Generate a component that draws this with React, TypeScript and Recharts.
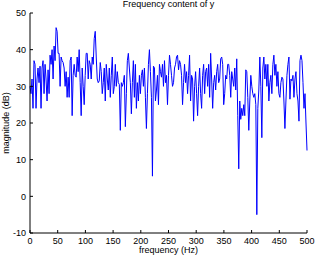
import { LineChart, Line, XAxis, YAxis } from 'recharts';

// magnitude readings, 0..500 Hz, split in chunks of roughly 100 Hz
const mag0to100 = [
  30, 28, 32, 24, 37, 36, 24, 32, 35, 31, 35.5, 24, 35, 37, 28, 36, 32, 26, 34.5, 28,
  38.5, 36, 40, 32, 41, 37, 46, 45, 39, 39, 30, 38, 37, 36.5, 35, 30, 34, 27, 32.5, 27,
  37, 38, 22, 33, 36, 33, 32.5, 38, 34, 40, 31, 22, 35, 30, 25,
];
const mag100to200 = [
  33, 39, 39, 32, 37, 36, 32, 38, 36, 43, 45, 38, 32, 31, 31.5, 36.5, 34, 28, 31, 35,
  26, 36, 32, 29, 35, 27, 33, 38, 28, 30, 36, 30, 34, 31, 30.5, 18, 31, 30, 31, 33,
  19, 28, 37, 39, 35, 31, 22.5, 31, 37, 27, 36, 24, 31, 26, 33,
];
const mag200to300 = [
  28, 33, 34.5, 30, 35, 27, 18.5, 28, 36, 40, 34, 27, 5.5, 35.5, 35, 26, 29, 33, 25, 36,
  34, 32.5, 36, 30, 37, 31, 33, 25, 33, 38.5, 36, 33, 30, 31, 35, 36, 38, 38.5, 34.5, 37,
  36, 33, 25, 31, 36, 31, 34, 28, 33, 38.5, 26, 33, 32, 20.5, 30,
];
const mag300to400 = [
  34, 28, 22, 30, 35, 28, 24, 33, 36, 28, 34, 35, 30, 36, 27, 39, 32, 24, 31, 33,
  29, 34, 36, 31, 32, 37.5, 38, 36, 25, 28, 33, 32, 36, 36, 33, 27, 34, 32, 30, 35,
  29, 37.5, 22, 7.5, 26, 21, 24, 22, 25, 22, 34.5, 34, 27, 18, 26,
];
const mag400to500 = [
  33, 30, 28, 27, 28, 25, -5, 24, 29, 38, 30, 16, 35, 38, 32, 36, 30, 36, 26, 31,
  33, 28, 36, 38.5, 33, 36, 30, 34, 28, 27, 31, 32.5, 32, 26, 18.5, 26, 33, 36, 38, 26.5,
  32, 31.5, 33, 27, 32, 34, 28, 26, 20.5, 37, 38.5, 37, 31, 24, 28, 20, 12.5,
];

const xTicks = [0, 50, 100, 150, 200, 250, 300, 350, 400, 450, 500];
const yTicks = [-10, 0, 10, 20, 30, 40, 50];

const magnitudes = [...mag0to100, ...mag100to200, ...mag200to300, ...mag300to400, ...mag400to500];
const fMax = 500;
const data = magnitudes.map((m, i) => ({ f: (i * fMax) / (magnitudes.length - 1), m }));

const font = '"Liberation Sans", Arial, sans-serif';
const tickStyle = { fontSize: 9, fill: '#000', fontFamily: font };

export default function App() {
  return (
    <div style={{ position: 'relative', width: 315, height: 257, background: '#fff', fontFamily: font }}>
      <style>{'body{margin:0}'}</style>
      <LineChart width={315} height={257} data={data} margin={{ top: 13, right: 8, left: 0, bottom: 0 }}>
        <XAxis
          dataKey="f"
          type="number"
          domain={[0, 500]}
          ticks={xTicks}
          interval={0}
          height={24}
          stroke="#000"
          tickSize={-3}
          tickMargin={8}
          tick={tickStyle}
        />
        <XAxis
          xAxisId="top"
          orientation="top"
          dataKey="f"
          type="number"
          domain={[0, 500]}
          ticks={xTicks}
          interval={0}
          height={0}
          stroke="#000"
          tickSize={-3}
          tickFormatter={() => ''}
        />
        <YAxis
          type="number"
          domain={[-10, 50]}
          ticks={yTicks}
          interval={0}
          width={30}
          stroke="#000"
          tickSize={-3}
          tickMargin={7}
          tick={tickStyle}
        />
        <YAxis
          yAxisId="right"
          orientation="right"
          type="number"
          domain={[-10, 50]}
          ticks={yTicks}
          interval={0}
          width={0}
          stroke="#000"
          tickSize={-3}
          tickFormatter={() => ''}
        />
        <Line
          type="linear"
          dataKey="m"
          stroke="#0000ff"
          strokeWidth={1}
          dot={false}
          isAnimationActive={false}
        />
      </LineChart>
      <div style={{ position: 'absolute', top: -1, left: 30, width: 277, textAlign: 'center', fontSize: 9 }}>
        Frequency content of y
      </div>
      <div style={{ position: 'absolute', top: 245, left: 30, width: 277, textAlign: 'center', fontSize: 9 }}>
        frequency (Hz)
      </div>
      <div
        style={{
          position: 'absolute',
          left: 6,
          top: 123,
          fontSize: 9,
          whiteSpace: 'nowrap',
          transform: 'translate(-50%, -50%) rotate(-90deg)',
        }}
      >
        magnitude (dB)
      </div>
    </div>
  );
}
